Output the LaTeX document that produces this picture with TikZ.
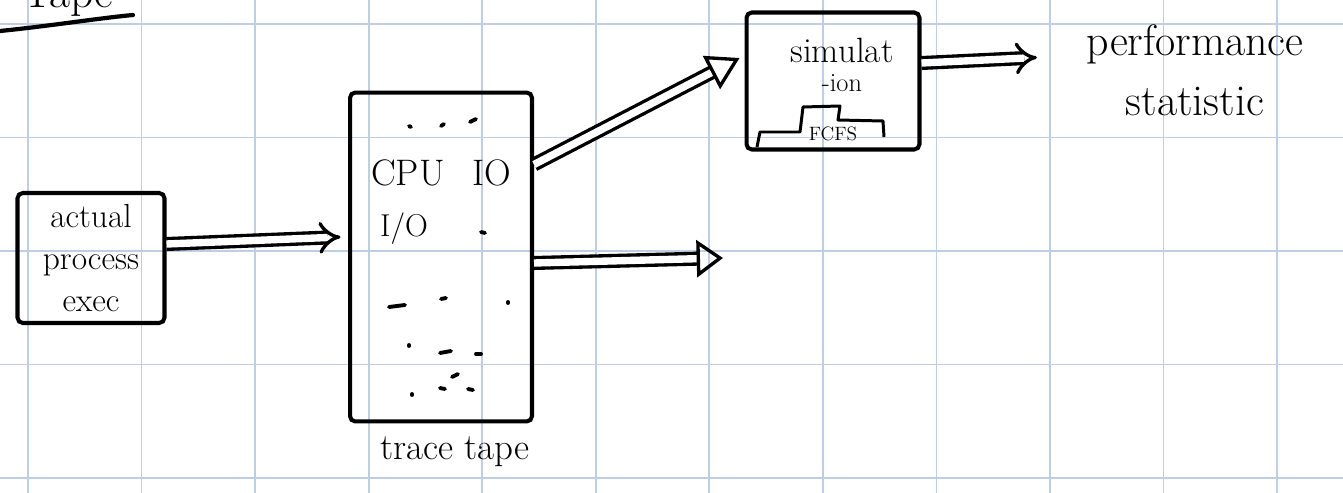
\documentclass[tikz,border=0pt]{standalone}
\usepackage{tikz}
\usetikzlibrary{arrows.meta, positioning, calc}
\definecolor{gridblue}{RGB}{190,206,230}

\begin{document}
\begin{tikzpicture}[
    x=0.02cm, y=-0.02cm,
    box/.style={draw, line width=2.3pt, rounded corners=3pt, inner sep=0pt},
    dblarrow/.style={double, double distance=4.2pt, line width=1.9pt, black},
    hand/.style={font=\fontsize{20}{25}\selectfont, inner sep=1pt},
    small/.style={font=\fontsize{11}{12}\selectfont, inner sep=0pt},
    gridline/.style={gridblue, line width=1pt},
    tapemark/.style={line width=2.2pt, line cap=round}
]

% page and grid paper
\useasboundingbox (0,0) rectangle (1343,493);
\fill[white] (0,0) rectangle (1343,493);
\foreach \gx in {0,...,11}
    \draw[gridline] ({28+113.55*\gx},0) -- ({28+113.55*\gx},493);
\foreach \gy in {0,...,4}
    \draw[gridline] (0,{24+113.5*\gy}) -- (1343,{24+113.5*\gy});

% title cut off at the top
\node[hand, font=\fontsize{26}{28}\selectfont, anchor=base] (page_title) at (68,8) {Tape};
\draw[line width=2.4pt, line cap=round] (0,31) .. controls (50,26) and (100,18) .. (133,15);

% boxes
\node[box, hand, font=\fontsize{19}{24}\selectfont, align=center, minimum width=2.94cm, minimum height=2.6cm] (actual_exec) at (91,258) {actual\\process\\exec};
\node[box, minimum width=3.64cm, minimum height=6.58cm] (trace_tape) at (441,257) {};
\node[box, minimum width=3.46cm, minimum height=2.74cm] (simulation) at (833,81) {};

% trace tape contents
\node[hand, font=\fontsize{21}{24}\selectfont] (cpu_label) at (408,173) {CPU};
\node[hand, font=\fontsize{21}{24}\selectfont] (io_label) at (492,173) {IO};
\node[hand, font=\fontsize{18}{20}\selectfont] (io_slash) at (404,229) {I/O};
\foreach \ax/\ay/\bx/\by in {409/126/411/127, 441/126/444/124, 470/122/476/119, 481/232/485/233,
    389/307/405/305, 441/299/446/298, 508/302/508/303, 409/345/409/346, 440/353/451/351,
    476/354/481/354, 452/377/458/374, 412/394/412/395, 440/388/445/389, 468/389/473/390}
    \draw[tapemark] (\ax,\ay) -- (\bx,\by);
\node[hand, font=\fontsize{21}{24}\selectfont] (tape_label) at (455,452) {trace tape};

% simulation contents
\node[hand] (sim_label) at (842,50) {simulat};
\node[hand, font=\fontsize{15}{16}\selectfont] (sim_label2) at (842,83) {-ion};
\draw[line width=1.7pt, line join=round] (757,147) -- (760,132) -- (800,132) -- (803,107)
    -- (840,106) -- (838,120) -- (883,121) -- (884,137);
\node[small] (fcfs_label) at (833,134) {FCFS};

% output label
\node[hand, font=\fontsize{25}{34}\selectfont, align=center] (perf_stat) at (1195,70) {performance\\statistic};

% arrows
\draw[dblarrow, -{Implies[length=11pt, width=20pt]}] ([yshift=0.28cm]actual_exec.east) -- ([xshift=-0.15cm, yshift=0.4cm]trace_tape.west);
\draw[dblarrow, -{Triangle[open, length=18pt, width=21pt, line width=1.9pt]}] ([yshift=1.85cm]trace_tape.east) -- ([xshift=-0.1cm, yshift=0.46cm]simulation.west);
\coordinate (free_end) at (723,258);
\draw[dblarrow, -{Triangle[open, length=15pt, width=21pt, line width=1.9pt]}] ([yshift=-0.12cm]trace_tape.east) -- (free_end);
\draw[dblarrow, -{Implies[length=13pt, width=22pt]}] ([yshift=0.36cm]simulation.east) -- ([xshift=-0.95cm, yshift=0.25cm]perf_stat.west);

\end{tikzpicture}
\end{document}
